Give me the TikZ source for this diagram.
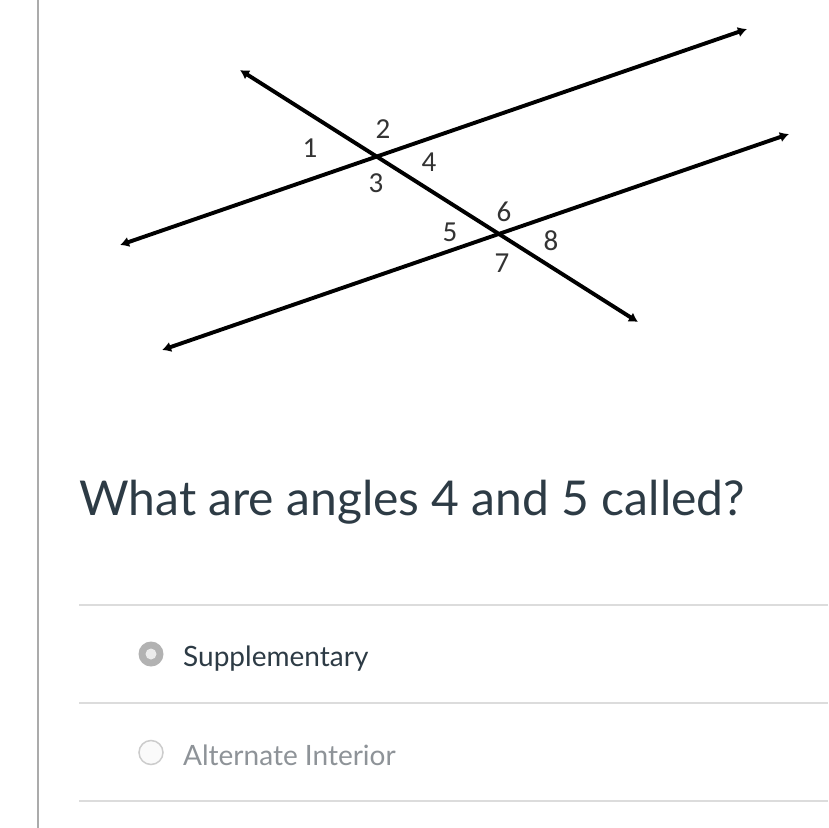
\documentclass[tikz,border=0pt]{standalone}
\usepackage{fontspec}
\setmainfont{Lato}
\newfontfamily\labelfont{Carlito}
\usetikzlibrary{arrows.meta,positioning}
\definecolor{textdark}{HTML}{2D3B45}
\definecolor{textgray}{HTML}{8E9398}
\definecolor{rulegray}{HTML}{DCDCDC}
\definecolor{sidegray}{HTML}{ABABAB}

\begin{document}
\begin{tikzpicture}[x=1pt,y=-1pt,
    every node/.style={inner sep=0pt},
    ray/.style={line width=3.9pt,{Latex[length=9pt,width=10.5pt]}-{Latex[length=9pt,width=10.5pt]}},
    anglelbl/.style={font=\labelfont\fontsize{29}{29}\selectfont,text=black!80},
    rowrule/.style={rulegray,line width=2pt},
    answer/.style={anchor=base west,font=\fontsize{28}{28}\selectfont}]
                \useasboundingbox (0,0) rectangle (828,828);
                \fill[white] (0,0) rectangle (828,828);
                \draw[sidegray,line width=2pt] (38,0) -- (38,828);
                % the two parallel lines and the transversal
                \coordinate (pa) at (120,245);
                \coordinate (pb) at (747,29);
                \coordinate (qa) at (162,350);
                \coordinate (qb) at (789,134);
                \coordinate (ta) at (240,70);
                \coordinate (tb) at (638,322);
                \draw[ray] (pa) -- (pb);
                \draw[ray] (qa) -- (qb);
                \draw[ray] (ta) -- (tb);
                \node[anglelbl] (a1) at (310,148) {1};
                \node[anglelbl] (a2) at (383,129) {2};
                \node[anglelbl] (a3) at (376,183) {3};
                \node[anglelbl] (a4) at (429,162) {4};
                \node[anglelbl] (a5) at (450,232) {5};
                \node[anglelbl] (a6) at (504,212) {6};
                \node[anglelbl] (a7) at (502,263) {7};
                \node[anglelbl] (a8) at (551,241) {8};
                % question and answers
                \node[anchor=base west,text=textdark,font=\fontsize{48}{48}\selectfont] (quest) at (79,515) {What are angles 4 and 5 called?};
                \draw[rowrule] (79,605) -- (828,605);
                \draw[rowrule] (79,703) -- (828,703);
                \draw[rowrule] (79,801) -- (828,801);
                \fill[black!30] (151,654) circle (12.5);
                \fill[black!8] (151,654) circle (5.5);
                \draw[black!20,line width=1.5pt,fill=black!2] (151,752.5) circle (12);
                \node[answer,text=textdark] (supp) at (183,666.5) {Supplementary};
                \node[answer,text=textgray] (alt) at (183,765) {Alternate Interior};
            \end{tikzpicture}
\end{document}
